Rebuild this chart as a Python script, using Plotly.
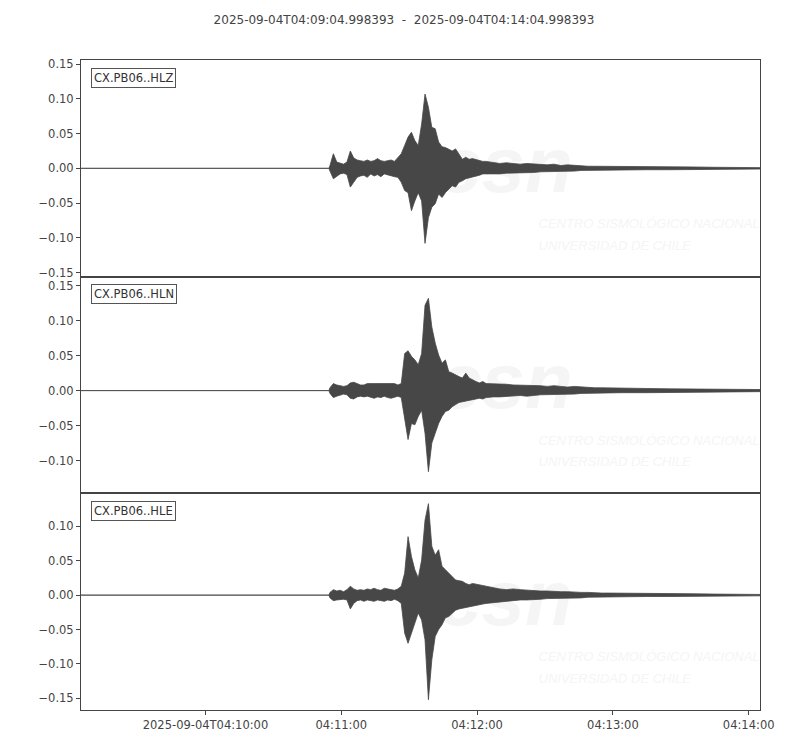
import pandas as pd
import plotly.graph_objects as go
from plotly.subplots import make_subplots

# ventana de tiempo de la figura
t_start = "2025-09-04T04:09:04.998393"
t_end = "2025-09-04T04:14:04.998393"

# canales de la estacion
channels = ["CX.PB06..HLZ", "CX.PB06..HLN", "CX.PB06..HLE"]

# segundos desde t_start donde se leyo la envolvente
t_sec = [0, 109.5,
         110, 111.5, 113, 114.5, 116, 117.5, 119, 120.5, 122, 123.5,
         125, 126.5, 128, 129.5, 131, 132.5, 134, 135.5, 137, 138.5,
         140, 141.5, 143, 144.5, 146, 147.5, 149, 150.5, 152, 153.5,
         155, 156.5, 158, 159.5, 161, 162.5, 164, 165.5, 167, 168.5,
         170, 171.5, 173, 174.5, 176, 177.5, 179,
         182, 185, 188, 191, 194, 197, 200, 203, 206, 209,
         212, 215, 218, 221, 224, 227, 230, 233, 236, 239,
         250, 260, 270, 280, 290, 300]

# envolvente superior / inferior de cada canal
hlz_upper = [0, 0,
             0.004, 0.021, 0.009, 0.007, 0.006, 0.009, 0.025, 0.015, 0.012, 0.011,
             0.010, 0.012, 0.010, 0.011, 0.014, 0.011, 0.010, 0.011, 0.012, 0.010,
             0.016, 0.021, 0.033, 0.045, 0.052, 0.040, 0.033, 0.064, 0.107, 0.088,
             0.059, 0.057, 0.038, 0.031, 0.030, 0.028, 0.025, 0.028, 0.021, 0.013,
             0.016, 0.013, 0.014, 0.0125, 0.011, 0.010, 0.010,
             0.008, 0.007, 0.008, 0.007, 0.006, 0.007, 0.006, 0.005, 0.005, 0.006,
             0.004, 0.005, 0.004, 0.004, 0.003, 0.003, 0.003, 0.003, 0.003, 0.002,
             0.002, 0.002, 0.002, 0.0015, 0.0015, 0.001]
hlz_lower = [0, 0,
             -0.004, -0.015, -0.011, -0.008, -0.007, -0.009, -0.027, -0.020, -0.013, -0.011,
             -0.010, -0.013, -0.008, -0.011, -0.009, -0.012, -0.008, -0.010, -0.011, -0.012,
             -0.013, -0.020, -0.032, -0.035, -0.061, -0.047, -0.035, -0.047, -0.108, -0.071,
             -0.056, -0.051, -0.037, -0.042, -0.035, -0.030, -0.025, -0.027, -0.020, -0.018,
             -0.015, -0.013, -0.012, -0.011, -0.010, -0.008, -0.009,
             -0.008, -0.008, -0.007, -0.007, -0.006, -0.006, -0.006, -0.005, -0.005, -0.004,
             -0.004, -0.004, -0.004, -0.003, -0.003, -0.003, -0.003, -0.002, -0.002, -0.002,
             -0.002, -0.002, -0.0015, -0.0015, -0.0015, -0.001]

hln_upper = [0, 0,
             0.004, 0.010, 0.008, 0.007, 0.006, 0.007, 0.011, 0.012, 0.010, 0.008,
             0.008, 0.010, 0.010, 0.010, 0.011, 0.010, 0.010, 0.011, 0.010, 0.010,
             0.008, 0.010, 0.053, 0.057, 0.049, 0.044, 0.037, 0.053, 0.122, 0.132,
             0.091, 0.068, 0.051, 0.039, 0.044, 0.027, 0.025, 0.022, 0.020, 0.018,
             0.025, 0.018, 0.015, 0.013, 0.011, 0.013, 0.010,
             0.010, 0.009, 0.009, 0.008, 0.008, 0.008, 0.007, 0.007, 0.006, 0.007,
             0.006, 0.005, 0.006, 0.005, 0.004, 0.004, 0.004, 0.004, 0.003, 0.003,
             0.003, 0.0025, 0.002, 0.002, 0.002, 0.0015]
hln_lower = [0, 0,
             -0.004, -0.010, -0.008, -0.006, -0.005, -0.006, -0.011, -0.012, -0.009, -0.008,
             -0.009, -0.008, -0.010, -0.011, -0.009, -0.010, -0.008, -0.010, -0.011, -0.009,
             -0.008, -0.010, -0.042, -0.070, -0.047, -0.049, -0.037, -0.028, -0.061, -0.116,
             -0.075, -0.061, -0.047, -0.037, -0.030, -0.028, -0.023, -0.020, -0.017, -0.016,
             -0.014, -0.014, -0.013, -0.012, -0.011, -0.012, -0.010,
             -0.009, -0.009, -0.008, -0.008, -0.007, -0.008, -0.007, -0.006, -0.006, -0.006,
             -0.005, -0.005, -0.005, -0.004, -0.004, -0.004, -0.003, -0.004, -0.003, -0.003,
             -0.003, -0.0025, -0.002, -0.002, -0.002, -0.0015]

hle_upper = [0, 0,
             0.004, 0.008, 0.006, 0.007, 0.005, 0.008, 0.013, 0.009, 0.007, 0.008,
             0.007, 0.009, 0.008, 0.010, 0.008, 0.007, 0.010, 0.009, 0.008, 0.007,
             0.009, 0.013, 0.032, 0.085, 0.056, 0.037, 0.025, 0.051, 0.109, 0.133,
             0.071, 0.058, 0.066, 0.042, 0.037, 0.032, 0.027, 0.022, 0.021, 0.020,
             0.017, 0.015, 0.017, 0.016, 0.015, 0.013, 0.012,
             0.010, 0.009, 0.008, 0.009, 0.008, 0.007, 0.007, 0.006, 0.006, 0.005,
             0.005, 0.005, 0.004, 0.004, 0.004, 0.003, 0.003, 0.003, 0.003, 0.003,
             0.002, 0.002, 0.002, 0.0015, 0.0015, 0.001]
hle_lower = [0, 0,
             -0.004, -0.008, -0.007, -0.006, -0.006, -0.007, -0.020, -0.012, -0.008, -0.007,
             -0.009, -0.007, -0.008, -0.009, -0.007, -0.008, -0.009, -0.007, -0.008, -0.006,
             -0.008, -0.012, -0.055, -0.070, -0.055, -0.041, -0.026, -0.036, -0.065, -0.152,
             -0.094, -0.060, -0.050, -0.043, -0.033, -0.031, -0.026, -0.022, -0.020, -0.019,
             -0.017, -0.016, -0.015, -0.014, -0.014, -0.013, -0.012,
             -0.010, -0.009, -0.009, -0.008, -0.007, -0.007, -0.007, -0.006, -0.005, -0.005,
             -0.005, -0.004, -0.004, -0.004, -0.003, -0.003, -0.003, -0.003, -0.003, -0.002,
             -0.002, -0.002, -0.002, -0.0015, -0.0015, -0.001]

# marcas del eje de tiempo
tick_times = ["2025-09-04 04:10:00", "2025-09-04 04:11:00", "2025-09-04 04:12:00",
              "2025-09-04 04:13:00", "2025-09-04 04:14:00"]
tick_labels = ["2025-09-04T04:10:00", "04:11:00", "04:12:00", "04:13:00", "04:14:00"]

traces = [(hlz_upper, hlz_lower), (hln_upper, hln_lower), (hle_upper, hle_lower)]
y_ranges = [(-0.156, 0.156), (-0.147, 0.163), (-0.167, 0.148)]

t0 = pd.Timestamp(t_start)
t1 = pd.Timestamp(t_end)
times = (t0 + pd.to_timedelta(t_sec, unit="s")).strftime("%Y-%m-%d %H:%M:%S.%f")
xs = list(times) + list(times[::-1])

ink = "#474747"
axis_col = "#444444"
mark_col = "#f5f5f5"

fig = make_subplots(rows=3, cols=1, shared_xaxes=True, vertical_spacing=0)

for i, (up, lo) in enumerate(traces):
    row = i + 1
    # traza rellena entre envolventes
    fig.add_trace(go.Scatter(x=xs, y=up + lo[::-1], mode="lines", fill="toself",
                             fillcolor=ink, line=dict(color=ink, width=0.8),
                             hoverinfo="skip", showlegend=False),
                  row=row, col=1)
    fig.update_yaxes(range=list(y_ranges[i]), dtick=0.05, tick0=0, tickformat=".2f",
                     ticks="outside", ticklen=4, tickcolor=axis_col, showline=True,
                     mirror=True, linecolor=axis_col, linewidth=1, showgrid=False,
                     zeroline=False, row=row, col=1)
    xref = "x domain" if row == 1 else "x%d domain" % row
    yref = "y domain" if row == 1 else "y%d domain" % row
    # etiqueta del canal
    fig.add_annotation(text=channels[i], xref=xref, yref=yref, x=0.015, y=0.965,
                       xanchor="left", yanchor="top", showarrow=False,
                       font=dict(size=11.5, color="#333333"), bgcolor="white",
                       bordercolor="#555555", borderwidth=1, borderpad=2)
    # marca de agua CSN (debajo de la traza)
    fig.add_shape(type="rect", xref=xref, yref=yref, x0=0.53, x1=0.72, y0=0.34, y1=0.76,
                  layer="below", line=dict(width=0), fillcolor="rgba(0,0,0,0)",
                  label=dict(text="<b><i>csn</i></b>", textposition="middle center",
                             font=dict(size=78, color=mark_col, family="Liberation Sans")))
    fig.add_shape(type="rect", xref=xref, yref=yref, x0=0.665, x1=0.99, y0=0.20, y1=0.30,
                  layer="below", line=dict(width=0), fillcolor="rgba(0,0,0,0)",
                  label=dict(text="<i>CENTRO SISMOLÓGICO NACIONAL</i>", textposition="middle left",
                             font=dict(size=13, color=mark_col, family="Liberation Sans")))
    fig.add_shape(type="rect", xref=xref, yref=yref, x0=0.665, x1=0.99, y0=0.10, y1=0.20,
                  layer="below", line=dict(width=0), fillcolor="rgba(0,0,0,0)",
                  label=dict(text="<i>UNIVERSIDAD DE CHILE</i>", textposition="middle left",
                             font=dict(size=13, color=mark_col, family="Liberation Sans")))

fig.update_xaxes(type="date", range=[t0, t1], tickvals=tick_times, ticktext=tick_labels,
                 showline=True, mirror=True, linecolor=axis_col, linewidth=1,
                 showgrid=False, zeroline=False, ticks="", showticklabels=False)
fig.update_xaxes(ticks="outside", ticklen=4, tickcolor=axis_col, showticklabels=True,
                 row=3, col=1)

fig.update_layout(
    width=792, height=742,
    margin=dict(l=73, r=40, t=52, b=40),
    plot_bgcolor="white", paper_bgcolor="white",
    font=dict(family="DejaVu Sans", size=11.5, color="#444444"),
    title=dict(text=t_start + "\u00a0\u00a0-\u00a0\u00a0" + t_end,
               x=0.5, xanchor="center", y=0.984, yanchor="middle",
               font=dict(size=12, color="#444444")),
    showlegend=False,
)

fig.write_html("out.html")
